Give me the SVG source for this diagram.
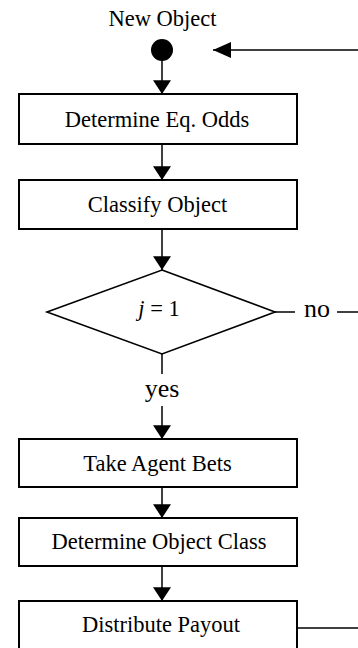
<svg xmlns="http://www.w3.org/2000/svg" width="358" height="648" viewBox="0 0 358 648">
<style>
  .box { fill: #fff; stroke: #000; stroke-width: 2; }
  .dia { fill: #fff; stroke: #000; stroke-width: 1.6; }
  .lbl { font-family: "Liberation Serif", "Times New Roman", serif; font-size: 22.5px; fill: #000; text-anchor: middle; }
  .yn { font-family: "Liberation Serif", "Times New Roman", serif; font-size: 26px; fill: #000; text-anchor: middle; }
  .edge { fill: none; stroke: #000; stroke-width: 1.5; }
</style>
<defs>
  <marker id="arr" markerUnits="userSpaceOnUse" markerWidth="18" markerHeight="18" viewBox="0 0 13 17" refX="13" refY="8.5" orient="auto">
    <path d="M0,0 L13,8.5 L0,17 Z" fill="#000"/>
  </marker>
  <marker id="arrL" markerUnits="userSpaceOnUse" markerWidth="18" markerHeight="16" viewBox="0 0 17 15" refX="17" refY="7.5" orient="auto">
    <path d="M0,0 L17,7.5 L0,15 Z" fill="#000"/>
  </marker>
</defs>

<g id="connectors">
  <line class="edge" x1="162" y1="60" x2="162" y2="94" marker-end="url(#arr)"/>
  <line class="edge" x1="162" y1="144" x2="162" y2="180" marker-end="url(#arr)"/>
  <line class="edge" x1="162" y1="229" x2="162" y2="270" marker-end="url(#arr)"/>
  <line class="edge" x1="162" y1="354" x2="162" y2="374"/>
  <text class="yn" x="162" y="397">yes</text>
  <line class="edge" x1="162" y1="406" x2="162" y2="439" marker-end="url(#arr)"/>
  <line class="edge" x1="162" y1="487" x2="162" y2="518" marker-end="url(#arr)"/>
  <line class="edge" x1="162" y1="566" x2="162" y2="601" marker-end="url(#arr)"/>
  <line class="edge" x1="275" y1="312" x2="295" y2="312"/>
  <text class="yn" x="317" y="317">no</text>
  <line class="edge" x1="337" y1="312" x2="358" y2="312"/>
  <line class="edge" x1="297" y1="628" x2="358" y2="628"/>
  <line class="edge" x1="358" y1="50" x2="213" y2="50" marker-end="url(#arrL)"/>
</g>

<g id="start">
  <text class="lbl" x="162.5" y="26">New Object</text>
  <circle cx="162" cy="50" r="11" fill="#000"/>
</g>

<g id="eqodds">
  <rect class="box" x="19" y="94" width="278" height="50"/>
  <text class="lbl" x="157" y="127">Determine Eq. Odds</text>
</g>

<g id="classify">
  <rect class="box" x="19" y="180" width="278" height="49"/>
  <text class="lbl" x="157.5" y="212">Classify Object</text>
</g>

<g id="decision">
  <polygon class="dia" points="162,270 275,312 162,354 47,312"/>
  <text class="lbl" x="159" y="316"><tspan font-style="italic">j</tspan> = 1</text>
</g>

<g id="bets">
  <rect class="box" x="19" y="439" width="278" height="48"/>
  <text class="lbl" x="157.5" y="470.5">Take Agent Bets</text>
</g>

<g id="objclass">
  <rect class="box" x="19" y="518" width="278" height="48"/>
  <text class="lbl" x="159" y="549">Determine Object Class</text>
</g>

<g id="payout">
  <rect class="box" x="19" y="601" width="278" height="48"/>
  <text class="lbl" x="161" y="632">Distribute Payout</text>
</g>
</svg>
